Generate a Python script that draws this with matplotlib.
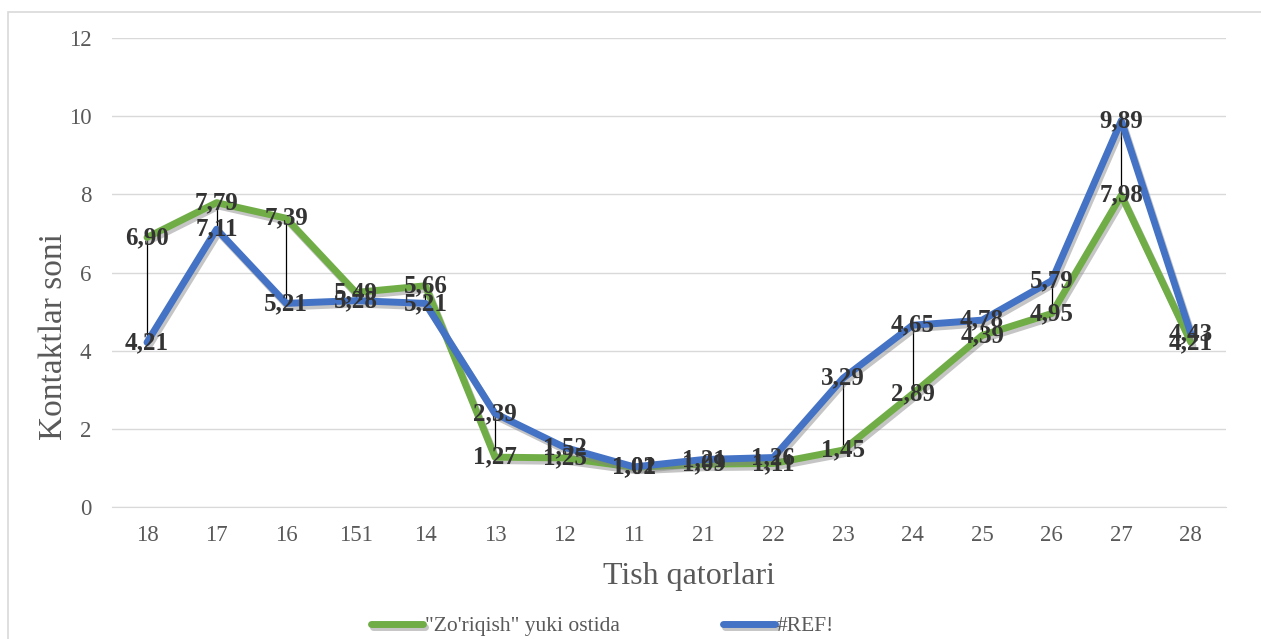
import numpy as np
import matplotlib.pyplot as plt
import matplotlib.patheffects as pe

plt.rcParams['font.family'] = ['Liberation Serif', 'DejaVu Serif']

# Ma'lumotlar
categories = ["18", "17", "16", "151", "14", "13", "12", "11",
              "21", "22", "23", "24", "25", "26", "27", "28"]
green_vals = [6.90, 7.79, 7.39, 5.49, 5.66, 1.27, 1.25, 1.01,
              1.09, 1.11, 1.45, 2.89, 4.39, 4.95, 7.98, 4.21]
blue_vals = [4.21, 7.11, 5.21, 5.28, 5.21, 2.39, 1.52, 1.02,
             1.21, 1.26, 3.29, 4.65, 4.78, 5.79, 9.89, 4.43]
green_name = '"Zo\'riqish" yuki ostida'
blue_name = "#REF!"

GREEN = "#70ad47"
BLUE = "#4472c4"
TEXT = "#595959"

fig = plt.figure(figsize=(12.61, 6.39), dpi=100)
ax = fig.add_axes([0.089, 0.207, 0.883, 0.733])

x = np.arange(len(categories))

# Vertikal chiziqlar (high-low)
for xi, g, b in zip(x, green_vals, blue_vals):
    ax.plot([xi, xi], [min(g, b), max(g, b)], color="black", lw=0.9, zorder=2)

shadow = [pe.SimpleLineShadow(offset=(1.5, -2.5), shadow_color="gray", alpha=0.45),
          pe.Normal()]
ax.plot(x, green_vals, color=GREEN, lw=5, label=green_name, zorder=3,
        solid_capstyle="round", path_effects=shadow)
ax.plot(x, blue_vals, color=BLUE, lw=5, label=blue_name, zorder=4,
        solid_capstyle="round", path_effects=shadow)

# Qiymat yorliqlari
for xi, g, b in zip(x, green_vals, blue_vals):
    for v in (g, b):
        ax.text(xi, v, f"{v:.2f}".replace(".", ","), ha="center", va="center",
                fontsize=18, fontweight="bold", color="#333333", zorder=5)

ax.set_xlim(-0.5, len(categories) - 0.5)
ax.set_ylim(0, 12)
ax.set_yticks(range(0, 13, 2))
ax.set_xticks(x)
ax.set_xticklabels(categories)
ax.tick_params(axis="both", length=0, labelsize=16.5, labelcolor=TEXT)
ax.tick_params(axis="y", pad=15)
ax.tick_params(axis="x", pad=13)
ax.grid(axis="y", color="#d9d9d9", lw=1)
ax.set_axisbelow(True)
for s in ["top", "right", "left"]:
    ax.spines[s].set_visible(False)
ax.spines["bottom"].set_color("#d9d9d9")

ax.set_xlabel("Tish qatorlari", fontsize=23, color=TEXT, labelpad=12, x=0.518)
ax.set_ylabel("Kontaktlar soni", fontsize=24, color=TEXT, labelpad=0, y=0.363)

fig.legend(loc="center", bbox_to_anchor=(0.478, 0.02), ncol=2, frameon=False,
           fontsize=15.5, labelcolor=TEXT, handlelength=2.4, handletextpad=0.1,
           columnspacing=4.8)

# Diagramma ramkasi
fig.patches.append(plt.Rectangle((0.006, -0.01), 1.2, 0.992, transform=fig.transFigure,
                                 fill=False, edgecolor="#d9d9d9", lw=1.2))

fig.savefig("out.png", dpi=100)
